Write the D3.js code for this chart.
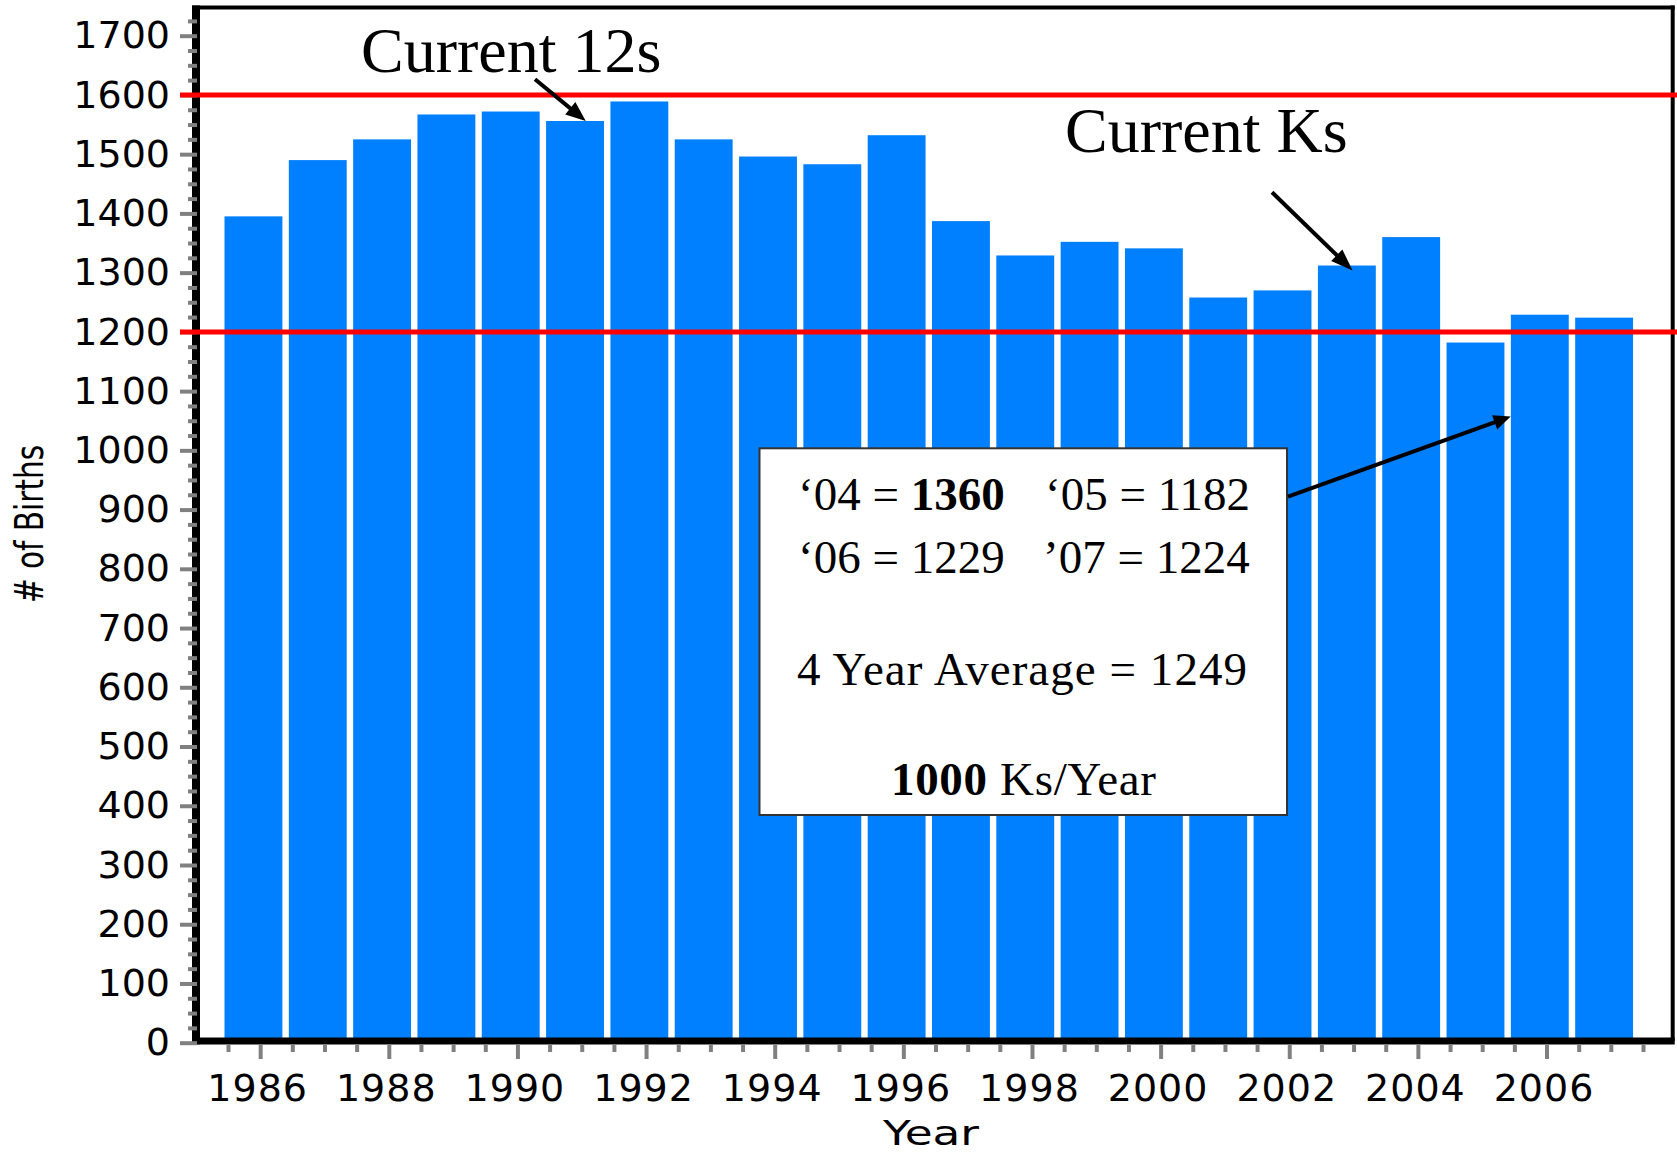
<!DOCTYPE html>
<html>
<head>
<meta charset="utf-8">
<script src="https://cdn.jsdelivr.net/npm/d3@7/dist/d3.min.js"></script>
<style>
    body { margin: 0; background: #fff; }
</style>
</head>
<body>
<script>
    // data
    var years = [1986, 1987, 1988, 1989, 1990, 1991, 1992, 1993, 1994, 1995, 1996,
                 1997, 1998, 1999, 2000, 2001, 2002, 2003, 2004, 2005, 2006, 2007];
    var births = [1395, 1490, 1525, 1567, 1572, 1556, 1589, 1525, 1496, 1483, 1532,
                  1387, 1329, 1352, 1341, 1258, 1270, 1312, 1360, 1182, 1229, 1224];
    var yTicks = [0, 100, 200, 300, 400, 500, 600, 700, 800, 900, 1000,
                  1100, 1200, 1300, 1400, 1500, 1600, 1700];
    var xTickYears = [1986, 1988, 1990, 1992, 1994, 1996, 1998, 2000, 2002, 2004, 2006];
    var refLines = [1600, 1200];
    var lastFour = [2004, 2005, 2006, 2007];
    var ksPerYear = 1000;

    var width = 1677, height = 1152;
    var serif = "'Times New Roman', 'Liberation Serif', serif";
    var sans = "'DejaVu Sans', sans-serif";

    var svg = d3.select("body").append("svg")
        .attr("width", width)
        .attr("height", height);

    svg.append("rect").attr("width", width).attr("height", height).attr("fill", "#fff");

    var frame = {left: 196, right: 1672.7, top: 7.5, bottom: 1041};

    var x = d3.scaleLinear().domain([1985.5, 2007.5]).range([228, 1643]);
    var y = d3.scaleLinear().domain([0, 1700]).range([1042.7, 35.7]);

    var val = function(yr) { return births[years.indexOf(yr)]; };

    // bars
    svg.append("g")
        .selectAll("rect")
        .data(years)
        .enter()
        .append("rect")
        .attr("x", d => x(d - 0.5) - 3.5)
        .attr("width", d => x(d + 0.4) - x(d - 0.5))
        .attr("y", (d, i) => y(births[i]))
        .attr("height", (d, i) => y(0) - y(births[i]))
        .attr("fill", "#0080FF");

    // frame + thick axis lines
    svg.append("line").attr("x1", 192).attr("x2", frame.right + 2)
        .attr("y1", frame.top).attr("y2", frame.top)
        .attr("stroke", "#000").attr("stroke-width", 4);
    svg.append("line").attr("x1", frame.right).attr("x2", frame.right)
        .attr("y1", frame.top - 2).attr("y2", frame.bottom)
        .attr("stroke", "#000").attr("stroke-width", 4);
    svg.append("line").attr("x1", frame.left).attr("x2", frame.left)
        .attr("y1", frame.top - 2).attr("y2", 1044.3)
        .attr("stroke", "#000").attr("stroke-width", 8);
    svg.append("line").attr("x1", 192).attr("x2", frame.right + 2)
        .attr("y1", frame.bottom).attr("y2", frame.bottom)
        .attr("stroke", "#000").attr("stroke-width", 7);

    // y axis
    var minorY = d3.range(25, 1750, 25).filter(d => d % 100 != 0);
    svg.append("g")
        .attr("transform", "translate(197,0)")
        .call(d3.axisLeft(y).tickValues(minorY).tickSize(9).tickFormat(""))
        .call(g => g.select(".domain").remove());

    var yAxis = svg.append("g")
        .attr("transform", "translate(197,0)")
        .call(d3.axisLeft(y).tickValues(yTicks).tickSize(17).tickPadding(10).tickFormat(d3.format("d")))
        .call(g => g.select(".domain").remove());

    yAxis.selectAll("text")
        .style("font-family", sans)
        .style("font-size", "38px")
        .attr("fill", "#000");

    // x axis
    var minorX = d3.range(1985.5, 2008, 0.5).filter(d => xTickYears.indexOf(d) < 0);
    svg.append("g")
        .attr("transform", "translate(0,1044)")
        .call(d3.axisBottom(x).tickValues(minorX).tickSize(8).tickFormat(""))
        .call(g => g.select(".domain").remove());

    var xAxis = svg.append("g")
        .attr("transform", "translate(0,1044)")
        .call(d3.axisBottom(x).tickValues(xTickYears).tickSize(15).tickPadding(14.7).tickFormat(d3.format("d")))
        .call(g => g.select(".domain").remove());

    xAxis.selectAll("text")
        .attr("dx", -3)
        .style("font-family", sans)
        .style("font-size", "38px")
        .style("letter-spacing", "1px")
        .attr("fill", "#000");

    svg.selectAll(".tick line")
        .attr("stroke", "#808080")
        .attr("stroke-width", 4);

    // axis titles
    svg.append("text")
        .attr("x", 931)
        .attr("y", 1145)
        .attr("text-anchor", "middle")
        .attr("textLength", 96)
        .attr("lengthAdjust", "spacingAndGlyphs")
        .style("font-family", sans)
        .style("font-size", "34px")
        .text("Year");

    svg.append("text")
        .attr("transform", "translate(43,524) rotate(-90)")
        .attr("text-anchor", "middle")
        .attr("textLength", 158)
        .attr("lengthAdjust", "spacingAndGlyphs")
        .style("font-family", sans)
        .style("font-size", "39px")
        .text("# of Births");

    // red reference lines
    svg.append("g")
        .selectAll("line")
        .data(refLines)
        .enter()
        .append("line")
        .attr("x1", 180)
        .attr("x2", width)
        .attr("y1", d => y(d))
        .attr("y2", d => y(d))
        .attr("stroke", "#FF0000")
        .attr("stroke-width", 5);

    // text box
    var box = {x: 759.5, y: 448.3, w: 527.5, h: 366.7};
    svg.append("rect")
        .attr("x", box.x).attr("y", box.y)
        .attr("width", box.w).attr("height", box.h)
        .attr("fill", "#fff")
        .attr("stroke", "#333")
        .attr("stroke-width", 2);

    var yy = function(yr) { return String(yr).slice(2); };
    var avg = Math.round(d3.mean(lastFour, val));

    var t1 = svg.append("text").attr("x", 798).attr("y", 510)
        .style("font-family", serif).style("font-size", "47px");
    t1.append("tspan").text("\u2018" + yy(2004) + " = ");
    t1.append("tspan").style("font-weight", "bold").text(val(2004));

    svg.append("text").attr("x", 1045).attr("y", 510)
        .style("font-family", serif).style("font-size", "47px")
        .text("\u2018" + yy(2005) + " = " + val(2005));

    svg.append("text").attr("x", 798).attr("y", 573)
        .style("font-family", serif).style("font-size", "47px")
        .text("\u2018" + yy(2006) + " = " + val(2006));

    svg.append("text").attr("x", 1043).attr("y", 573)
        .style("font-family", serif).style("font-size", "47px")
        .text("\u2019" + yy(2007) + " = " + val(2007));

    svg.append("text").attr("x", 797).attr("y", 685)
        .attr("textLength", 450)
        .attr("lengthAdjust", "spacing")
        .style("font-family", serif).style("font-size", "47px")
        .text("4 Year Average = " + avg);

    var t4 = svg.append("text").attr("x", 891).attr("y", 795)
        .attr("textLength", 265)
        .attr("lengthAdjust", "spacing")
        .style("font-family", serif).style("font-size", "47px");
    t4.append("tspan").style("font-weight", "bold").text(ksPerYear);
    t4.append("tspan").text(" Ks/Year");

    // callout labels
    svg.append("text").attr("x", 361).attr("y", 71.7)
        .style("font-family", serif).style("font-size", "64px")
        .text("Current 12s");

    svg.append("text").attr("x", 1065).attr("y", 152)
        .style("font-family", serif).style("font-size", "64px")
        .text("Current Ks");

    // arrows
    function arrow(x1, y1, x2, y2, headLen, headW) {
        var a = Math.atan2(y2 - y1, x2 - x1);
        var bx = x2 - headLen * Math.cos(a), by = y2 - headLen * Math.sin(a);
        var px = Math.sin(a) * headW / 2, py = -Math.cos(a) * headW / 2;
        svg.append("line")
            .attr("x1", x1).attr("y1", y1)
            .attr("x2", bx + (x2 - bx) * 0.2).attr("y2", by + (y2 - by) * 0.2)
            .attr("stroke", "#000").attr("stroke-width", 4);
        svg.append("polygon")
            .attr("points", [[x2, y2], [bx + px, by + py], [bx - px, by - py]].map(p => p.join(",")).join(" "))
            .attr("fill", "#000");
    }

    arrow(535, 79.3, x(1991) + 4, y(val(1991)), 20, 16);
    arrow(1272, 192.3, x(2003) - 1, y(val(2003)) + 5, 22, 16);
    arrow(box.x + box.w + 1, 496.7, x(2005.5) - 3.7, y(1057), 17, 15);
</script>
</body>
</html>
